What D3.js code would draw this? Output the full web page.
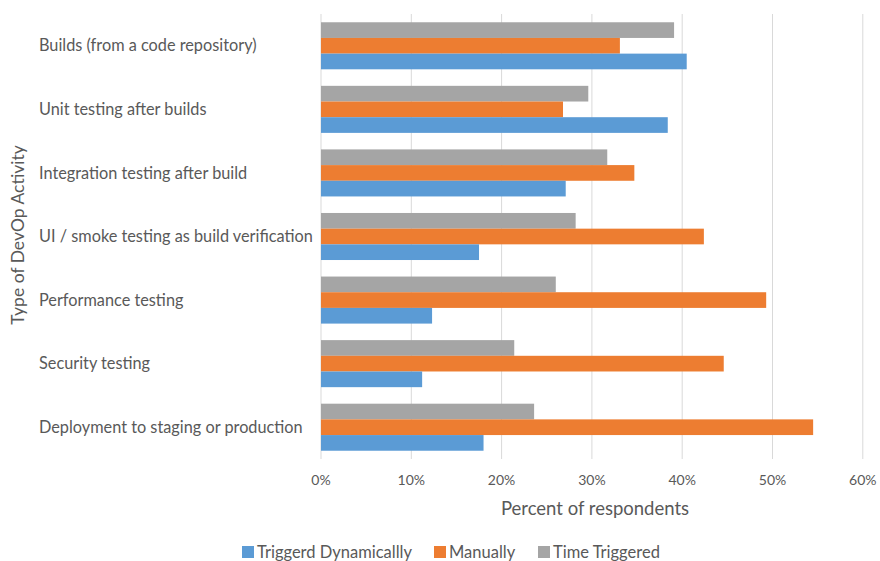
<!DOCTYPE html>
<html><head><meta charset="utf-8">
<script src="https://cdn.jsdelivr.net/npm/d3@7/dist/d3.min.js"></script>
<style>body{margin:0;background:#fff}svg{display:block}text{font-family:Lato,"Open Sans",sans-serif;fill:#595959}</style>
</head><body><svg id="c" width="880" height="561"></svg>
<script>
const categories = ["Builds (from a code repository)","Unit testing after builds","Integration testing after build","UI / smoke testing as build verification","Performance testing","Security testing","Deployment to staging or production"];
const seriesNames = ["Time Triggered","Manually","Triggerd Dynamicallly"];
const timeTriggered = [39.1,29.6,31.7,28.2,26.0,21.4,23.6];
const manually = [33.1,26.8,34.7,42.4,49.3,44.6,54.5];
const triggeredDyn = [40.5,38.4,27.1,17.5,12.3,11.2,18.0];
const xTicks = [0,10,20,30,40,50,60];
const legendOrder = ["Triggerd Dynamicallly","Manually","Time Triggered"];
const colors = {"Time Triggered":"#A5A5A5","Manually":"#ED7D31","Triggerd Dynamicallly":"#5B9BD5"};
const values = {"Time Triggered":timeTriggered,"Manually":manually,"Triggerd Dynamicallly":triggeredDyn};

const svg = d3.select("#c");
const pL=321, pR=862.8, pT=14, pB=459;
const x = d3.scaleLinear().domain([0,60]).range([pL,pR]);
const y = d3.scaleBand().domain(categories).range([pT,pB]).paddingInner(0.26).paddingOuter(0.13);
const ys = d3.scaleBand().domain(seriesNames).range([0,y.bandwidth()]);

// gridlines
svg.append("g").selectAll("line").data(xTicks).join("line")
  .attr("x1",d=>x(d)).attr("x2",d=>x(d)).attr("y1",pT).attr("y2",pB)
  .attr("stroke","#d9d9d9").attr("stroke-width",1);

// bars
const g = svg.append("g");
categories.forEach((c,i)=>{
  seriesNames.forEach(s=>{
    g.append("rect").attr("x",x(0)).attr("y",y(c)+ys(s))
     .attr("width",x(values[s][i])-x(0)).attr("height",ys.bandwidth())
     .attr("fill",colors[s]);
  });
});

// category labels
svg.append("g").selectAll("text").data(categories).join("text")
  .attr("x",39).attr("y",d=>y(d)+y.bandwidth()/2).attr("dy","0.35em")
  .attr("font-size",16.3).text(d=>d);

// x tick labels
svg.append("g").selectAll("text").data(xTicks).join("text")
  .attr("x",d=>x(d)).attr("y",485).attr("text-anchor","middle")
  .attr("font-size",14).text(d=>d+"%");

svg.append("text").attr("x",595).attr("y",515).attr("text-anchor","middle")
  .attr("font-size",18.5).text("Percent of respondents");

svg.append("text").attr("transform","translate(24,235) rotate(-90)")
  .attr("text-anchor","middle").attr("font-size",17.5).text("Type of DevOp Activity");

// legend
const lx = [242,434,538];
legendOrder.forEach((s,i)=>{
  svg.append("rect").attr("x",lx[i]).attr("y",546).attr("width",12).attr("height",12).attr("fill",colors[s]);
  svg.append("text").attr("x",lx[i]+15).attr("y",558).attr("font-size",16.5).text(s);
});
</script></body></html>
